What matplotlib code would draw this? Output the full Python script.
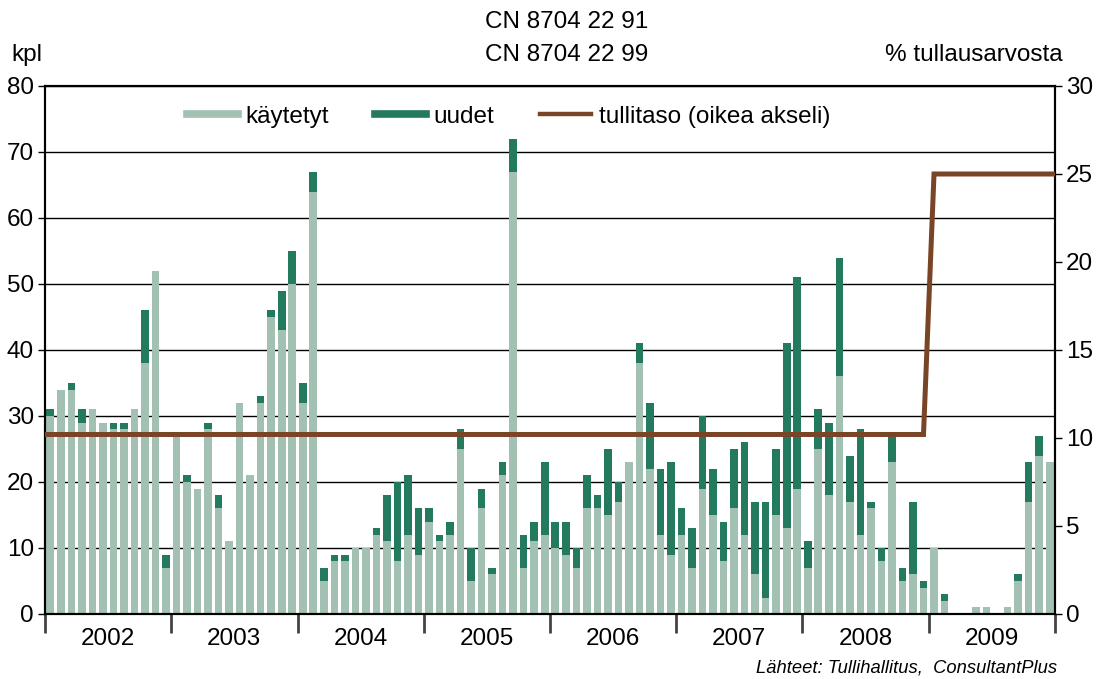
import matplotlib
matplotlib.use("Agg")
import matplotlib.pyplot as plt
import numpy as np
from matplotlib.lines import Line2D

plt.rcParams['font.family'] = ['Liberation Sans', 'DejaVu Sans']

years = ['2002', '2003', '2004', '2005', '2006', '2007', '2008', '2009']

# used cars (käytetyt), monthly, thousand units
used = [30, 34, 34, 29, 31, 29, 28, 28, 31, 38, 52, 7,
        27, 20, 19, 28, 16, 11, 32, 21, 32, 45, 43, 50,
        32, 64, 5, 8, 8, 10, 10, 12, 11, 8, 12, 9,
        14, 11, 12, 25, 5, 16, 6, 21, 67, 7, 11, 12,
        10, 9, 7, 16, 16, 15, 17, 23, 38, 22, 12, 9,
        12, 7, 19, 15, 8, 16, 12, 6, 2.5, 15, 13, 19,
        7, 25, 18, 36, 17, 12, 16, 8, 23, 5, 6, 4,
        10, 2, 0, 0, 1, 1, 0, 1, 5, 17, 24, 23]

# totals (used + new)
total = [31, 34, 35, 31, 31, 29, 29, 29, 31, 46, 52, 9,
         27, 21, 19, 29, 18, 11, 32, 21, 33, 46, 49, 55,
         35, 67, 7, 9, 9, 10, 10, 13, 18, 20, 21, 16,
         16, 12, 14, 28, 10, 19, 7, 23, 72, 12, 14, 23,
         14, 14, 10, 21, 18, 25, 20, 23, 41, 32, 22, 23,
         16, 13, 30, 22, 14, 25, 26, 17, 17, 25, 41, 51,
         11, 31, 29, 54, 24, 28, 17, 10, 27, 7, 17, 5,
         10, 3, 0, 0, 1, 1, 0, 1, 6, 23, 27, 23]

new = [t - u for t, u in zip(total, used)]

# tariff level, % of customs value (right axis)
tariff = [10.2] * 84 + [25] * 12

c_used = '#a3c1b3'
c_new = '#247a5e'
c_line = '#7a4427'
FS = 17.5

fig = plt.figure(figsize=(11.02, 6.79), dpi=100)
ax = fig.add_axes([45/1102, 1-614/679, (1055-45)/1102, (614-86)/679])
ax2 = ax.twinx()

x = np.arange(len(used))
ax.bar(x, used, width=0.72, color=c_used, zorder=2, label='käytetyt')
ax.bar(x, new, bottom=used, width=0.72, color=c_new, zorder=2, label='uudet')

xmin, xmax = -0.5, len(used) - 0.5
ax.set_xlim(xmin, xmax)
ax.set_ylim(0, 80)
ax.set_yticks(range(0, 81, 10))
ax.yaxis.grid(True, color='black', linewidth=1.0, zorder=0)
ax.set_axisbelow(True)

xl = np.concatenate([[xmin], x, [xmax]])
tl = [tariff[0]] + tariff + [tariff[-1]]
ax2.plot(xl, tl, color=c_line, linewidth=3.6, solid_joinstyle='miter', zorder=3)
ax2.set_ylim(0, 30)
ax2.set_yticks(range(0, 31, 5))
ax2.set_xlim(xmin, xmax)

# year ticks at boundaries, labels centered
bounds = np.arange(0, len(used) + 1, 12) - 0.5
ax.set_xticks(bounds)
ax.set_xticklabels([])
ax.set_xticks(np.arange(len(years)) * 12 + 5.5, minor=True)
ax.set_xticklabels(years, minor=True)
ax.tick_params(axis='x', which='major', length=14, width=2, color='#444444', direction='out')
ax.tick_params(axis='x', which='minor', length=0, labelsize=FS, pad=10)
ax.tick_params(axis='y', length=5, width=1, labelsize=FS, pad=3)
ax2.tick_params(axis='y', length=5, width=1, labelsize=FS, pad=3)

for a in (ax, ax2):
    for s in a.spines.values():
        s.set_linewidth(1.5)
        s.set_color('black')

fig.text(567/1102, 1-22/679, 'CN 8704 22 91', ha='center', va='center', fontsize=FS)
fig.text(567/1102, 1-55/679, 'CN 8704 22 99', ha='center', va='center', fontsize=FS)
fig.text(11/1102, 1-55/679, 'kpl', ha='left', va='center', fontsize=FS)
fig.text(1063/1102, 1-55/679, '% tullausarvosta', ha='right', va='center', fontsize=FS)
fig.text(1057/1102, 1-668/679, 'Lähteet: Tullihallitus,  ConsultantPlus',
         ha='right', va='center', fontsize=13.2, style='italic')

handles = [Line2D([0], [0], color=c_used, linewidth=5.5),
           Line2D([0], [0], color=c_new, linewidth=5.5),
           Line2D([0], [0], color=c_line, linewidth=3.2)]
labels = ['käytetyt', 'uudet', 'tullitaso (oikea akseli)']
ax.legend(handles, labels, loc='upper left', bbox_to_anchor=((170-45)/1010, 0.995),
          ncol=3, frameon=False, fontsize=FS, handlelength=2.1, handletextpad=0.3,
          columnspacing=1.9, borderaxespad=0.3)

fig.savefig('out.png', dpi=100)
